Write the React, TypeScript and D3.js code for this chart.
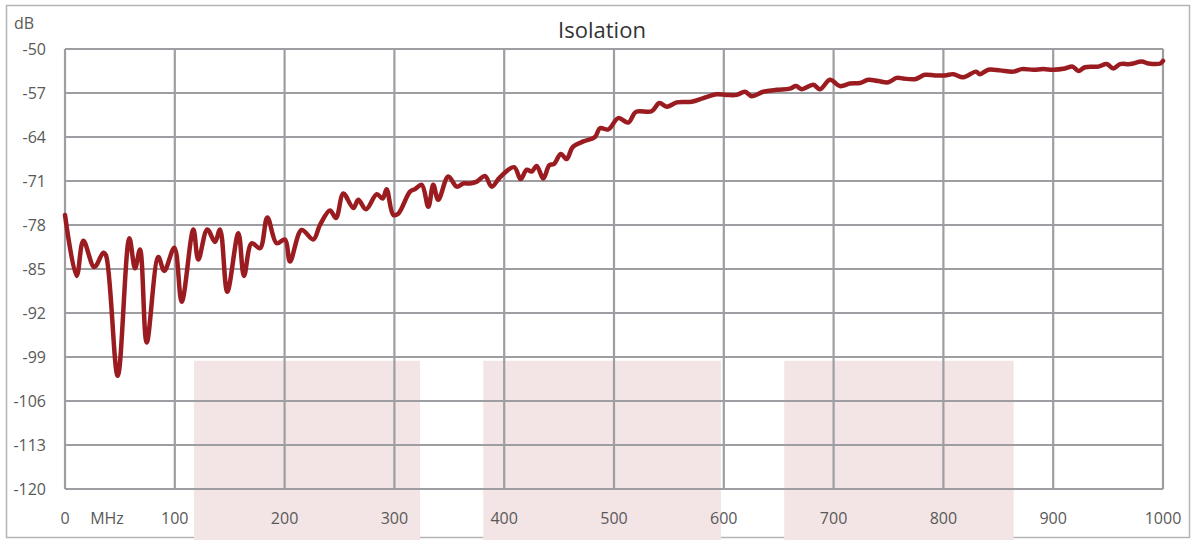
import React from 'react';
import * as d3 from 'd3';

// Frequency (MHz) and isolation (dB)
const freqMHz = [
  0, 10.6, 16.7, 26.7, 34.9, 37.3, 48, 58.6, 63.8, 68.3, 74.4, 85, 90.4, 99.6, 106.3,
  116.9, 121.4, 129.6, 136.6, 141.2, 147.8, 157.9, 163, 170, 177.6, 184.3, 192.8, 200.4,
  204.9, 215.5, 226.1, 232.2, 241.3, 246.8, 253.5, 262.6, 267.1, 274.1, 283.9, 289.3,
  292.9, 299, 303.5, 314.2, 318.8, 324.9, 330.9, 335.4, 339.9, 349.1, 356.7, 362.8, 368.9,
  375, 382.5, 388.6, 396.2, 409, 415, 420.5, 425, 429.6, 435.6, 441.1, 445.4, 451.5, 456.9,
  462.4, 472.1, 482.7, 487.2, 494.8, 503.9, 513, 520, 534.3, 541.3, 548, 557.1, 570.7,
  581.3, 593.5, 602.6, 611.7, 619.3, 625.4, 636, 648.1, 660.3, 665.8, 670.9, 681.5, 687.6,
  696.7, 705.8, 714.9, 724, 731.6, 740.7, 749.8, 757.4, 763.4, 774.1, 783.2, 792.3, 801.5,
  809, 818.1, 829.7, 833.3, 840.9, 851.5, 863.7, 871.3, 881.9, 891, 900.1, 910.7, 917.7,
  922.9, 929, 941.1, 948.7, 954.8, 960.9, 970, 980.6, 986.6, 997.7, 1000,
];
const isolationDb = [
  -76.4, -86.1, -80.5, -84.7, -82.4, -82.8, -102.0, -80.1, -84.9, -81.9, -96.7, -83.1, -85.3, -81.6, -90.2,
  -78.7, -83.5, -78.7, -80.7, -78.7, -88.6, -79.3, -86.1, -80.9, -81.7, -76.8, -80.9, -80.3,
  -83.8, -78.8, -80.3, -78.0, -75.7, -76.9, -73.0, -75.3, -74.0, -75.5, -73.1, -73.8,
  -72.3, -76.4, -76.2, -72.7, -72.3, -71.6, -75.1, -71.6, -74.0, -70.3, -71.9, -71.4, -71.4,
  -71.1, -70.2, -71.9, -70.4, -68.8, -70.7, -69.2, -69.5, -68.6, -70.6, -68.5, -68.3, -66.7, -67.5,
  -65.6, -64.7, -64.0, -62.6, -62.8, -61.0, -61.7, -60.0, -59.9, -58.6, -59.2, -58.5, -58.4,
  -57.8, -57.2, -57.3, -57.3, -56.8, -57.5, -56.8, -56.5, -56.3, -55.9, -56.4, -55.7, -56.4,
  -54.9, -55.9, -55.5, -55.4, -54.9, -55.1, -55.3, -54.6, -54.7, -54.8, -54.1, -54.2, -54.2,
  -54.0, -54.5, -53.6, -54.0, -53.3, -53.4, -53.6, -53.2, -53.3, -53.2, -53.3, -53.1, -52.8,
  -53.5, -52.9, -52.8, -52.4, -53.1, -52.4, -52.4, -52.0, -52.3, -52.3, -51.9,
];

const xTicks = [0, 100, 200, 300, 400, 500, 600, 700, 800, 900, 1000];
const yTicks = [-50, -57, -64, -71, -78, -85, -92, -99, -106, -113, -120];

// shaded bands (MHz start, MHz end), top edge in dB
const bandStart = [117.5, 380.9, 655];
const bandEnd = [323.3, 597.4, 864];
const bandTopDb = -99.6;

const W = 1194;
const H = 540;
const FONT = '"Open Sans", "Liberation Sans", sans-serif';
const TXT = '#595959';
const GRID = '#9e9ea2';

const App: React.FC = () => {
  const x = d3.scaleLinear().domain([0, 1000]).range([65, 1163]);
  const y = d3.scaleLinear().domain([-50, -120]).range([49, 489]);

  const points: [number, number][] = freqMHz.map((f, i) => [f, isolationDb[i]]);
  const line = d3.line<[number, number]>()
    .x(d => x(d[0]))
    .y(d => y(d[1]))
    .curve(d3.curveCatmullRom.alpha(0.5));

  return (
    <svg width={W} height={H} style={{ position: 'absolute', left: 0, top: 0, background: '#fff' }}>
      <rect x={6.5} y={5.5} width={1183} height={532} fill="none" stroke="#b4b4b4" strokeWidth={1.5} />

      {bandStart.map((b, i) => (
        <rect key={'band' + i} x={x(b)} y={y(bandTopDb)} width={x(bandEnd[i]) - x(b)}
          height={H - y(bandTopDb)} fill="#f3e5e6" />
      ))}

      {yTicks.map(t => (
        <line key={'gy' + t} x1={x(0)} x2={x(1000)} y1={y(t)} y2={y(t)} stroke={GRID} strokeWidth={2.2} />
      ))}
      {xTicks.map(t => (
        <line key={'gx' + t} x1={x(t)} x2={x(t)} y1={y(-50)} y2={y(-120)} stroke={GRID} strokeWidth={2.2} />
      ))}

      <path d={line(points) || ''} fill="none" stroke="#9a1c20" strokeWidth={4.5}
        strokeLinejoin="round" strokeLinecap="round" />

      <text x={602} y={29} textAnchor="middle" dominantBaseline="central"
        fontFamily={FONT} fontSize={22} fill="#333">Isolation</text>

      <text x={14} y={23} dominantBaseline="central" fontFamily={FONT} fontSize={16} fill={TXT}>dB</text>

      {yTicks.map(t => (
        <text key={'ty' + t} x={46} y={y(t)} textAnchor="end" dominantBaseline="central"
          fontFamily={FONT} fontSize={16} fill={TXT}>{t}</text>
      ))}
      {xTicks.map(t => (
        <text key={'tx' + t} x={x(t)} y={518} textAnchor="middle" dominantBaseline="central"
          fontFamily={FONT} fontSize={16} fill={TXT}>{t}</text>
      ))}
      <text x={107} y={518} textAnchor="middle" dominantBaseline="central"
        fontFamily={FONT} fontSize={16} fill={TXT}>MHz</text>
    </svg>
  );
};

export default App;
